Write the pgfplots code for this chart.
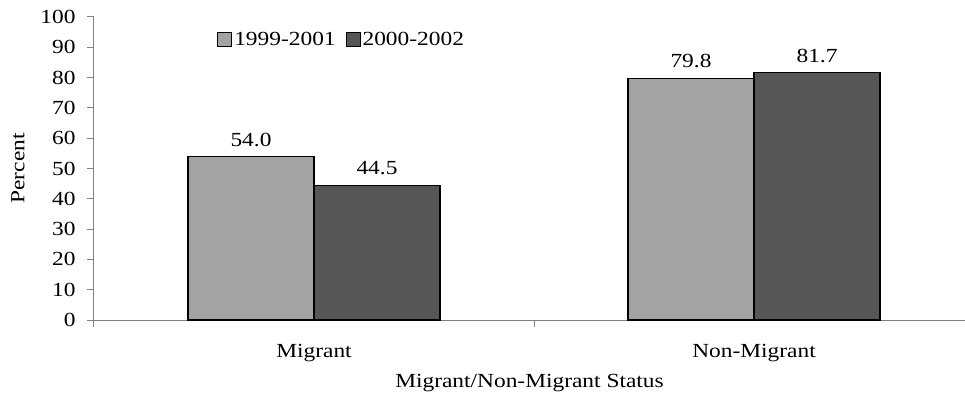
\documentclass[border=0pt]{standalone}
\usepackage{pgfplots}
\pgfplotsset{compat=1.18}
\usepackage{fontspec}
\setmainfont{Liberation Serif}[FakeStretch=1.17]
\definecolor{lightbar}{HTML}{A3A3A3}
\definecolor{darkbar}{HTML}{565656}
\definecolor{axgray}{HTML}{808080}
\newcommand{\fs}{\fontsize{20}{23}\selectfont}
\begin{document}
\begin{tikzpicture}
\begin{axis}[
  scale only axis,
  width=871pt, height=303pt,
  xmin=-0.5, xmax=1.4795,
  ymin=0, ymax=100,
  axis x line*=bottom, axis y line*=left,
  axis line style={axgray, line width=1pt},
  every tick/.style={axgray, line width=1pt},
  tick align=outside,
  major tick length=7pt,
  ytick={0,10,...,100},
  xtick={-0.5,0.5},
  xticklabels={},
  extra x ticks={0,1},
  extra x tick labels={Migrant,Non-Migrant},
  extra x tick style={major tick length=0pt, xticklabel style={anchor=center, yshift=-33pt}},
  tick label style={font=\fs},
  /pgf/number format/assume math mode=true,
  yticklabel style={xshift=-8pt},
  ylabel={Percent},
  ylabel style={font=\fs, at={(axis description cs:-0.0873,0.5)}, anchor=center},
  xlabel={Migrant/Non-Migrant Status},
  xlabel style={font=\fs, at={(axis description cs:0.5,0)}, anchor=center, yshift=-63pt},
  ybar,
  bar width=0.2864,
  nodes near coords,
  nodes near coords style={font=\fs, yshift=6pt, /pgf/number format/fixed, /pgf/number format/fixed zerofill, /pgf/number format/precision=1, /pgf/number format/assume math mode=true},
  legend style={at={(rel axis cs:0.138,0.964)}, anchor=north west, draw=none, fill=none, font=\fs,
    /tikz/every even column/.append style={column sep=8pt}},
  legend columns=2,
  legend image code/.code={\draw[#1, line width=0.9pt] (-4pt,-7pt) rectangle (10pt,7pt);},
]
\addplot[fill=lightbar, draw=black, line width=1.3pt, bar shift=-0.1432] coordinates {(0,54.0) (1,79.8)};
\addplot[fill=darkbar, draw=black, line width=1.3pt, bar shift=0.1432] coordinates {(0,44.5) (1,81.7)};
\legend{1999-2001,2000-2002}
\end{axis}
\pgfresetboundingbox
\path[use as bounding box] (-94pt,-78pt) rectangle (871pt,320pt);
\end{tikzpicture}
\end{document}
